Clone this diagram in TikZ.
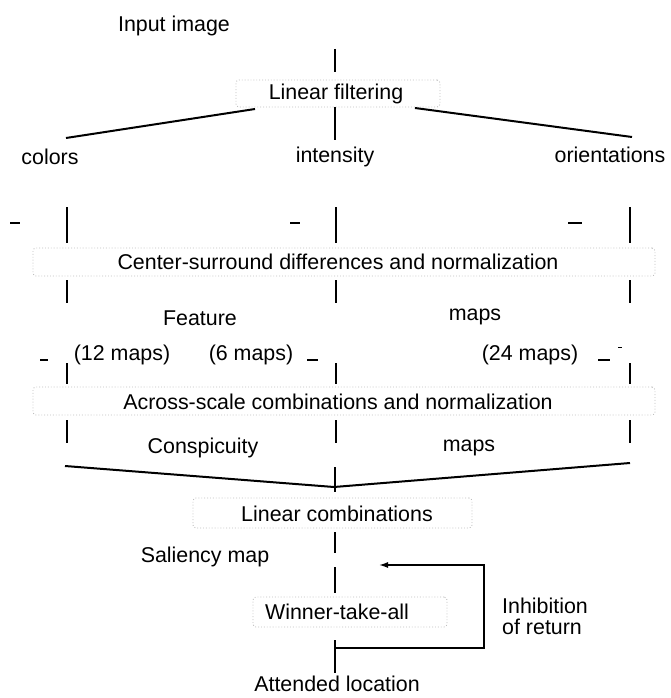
\documentclass[tikz,border=0pt]{standalone}
\usepackage{fontspec}
\setmainfont{Liberation Sans}
\usetikzlibrary{arrows.meta}
\begin{document}
\begin{tikzpicture}[x=1pt,y=-1pt,
  lbl/.style={font=\fontsize{21.4}{25}\selectfont, inner sep=0pt, anchor=center},
  bar/.style={line width=1.5pt},
  heavy/.style={line width=2pt},
  tickmark/.style={line width=1.8pt},
  dbox/.style={draw=gray!50, dotted, line width=0.9pt, rounded corners=3pt, inner sep=0pt}
]
\useasboundingbox (0,0) rectangle (671,698);

% texts
\node[lbl] (input) at (174,26) {Input image};
\node[dbox, minimum width=204pt, minimum height=27pt] (lfbox) at (338,93.5) {};
\node[lbl] (lf) at (336,94) {Linear filtering};
\node[lbl] (colors) at (50,157) {colors};
\node[lbl] (intensity) at (335,157) {intensity};
\node[lbl] (orient) at (610,155) {orientations};

\node[dbox, minimum width=622pt, minimum height=28pt] (csbox) at (344,262) {};
\node[lbl] (cs) at (338,262) {Center-surround differences and normalization};
\node[lbl] (feature) at (200,318) {Feature};
\node[lbl] (fmaps) at (475,317) {maps};
\node[lbl] (m12) at (122,355) {(12 maps)};
\node[lbl] (m6) at (251,355) {(6 maps)};
\node[lbl] (m24) at (530,355) {(24 maps)};

\node[dbox, minimum width=622pt, minimum height=28pt] (asbox) at (344,401) {};
\node[lbl] (as) at (338,402) {Across-scale combinations and normalization};
\node[lbl] (consp) at (203,448) {Conspicuity};
\node[lbl] (cmaps) at (469,448) {maps};

\node[dbox, minimum width=279pt, minimum height=30pt] (lcbox) at (332.5,513) {};
\node[lbl] (lc) at (337,514) {Linear combinations};
\node[lbl] (sal) at (205,557) {Saliency map};

\node[dbox, minimum width=194pt, minimum height=30pt] (wtabox) at (350,612) {};
\node[lbl] (wta) at (337,612) {Winner-take-all};
\node[lbl, anchor=west, align=left, font=\fontsize{21.4}{21}\selectfont] (ior) at (502,616) {Inhibition\\of return};
\node[lbl] (att) at (337,684) {Attended location};

% central trunk
\coordinate (t0) at (335,49);
\draw[bar] (t0) -- (335,72);
\draw[bar] (lfbox.south -| 335,0) -- (335,140);

% diagonals from Linear filtering
\coordinate (dl1) at (66,138);
\coordinate (dl2) at (255,109);
\coordinate (dr1) at (415,108);
\coordinate (dr2) at (632,137);
\draw[heavy] (dl1) -- (dl2);
\draw[heavy] (dr1) -- (dr2);

% bars and ticks
\foreach \x in {67,336,630}{
  \draw[bar] (\x,207) -- (\x,243);
  \draw[bar] (\x,280) -- (\x,303);
  \draw[bar] (\x,363) -- (\x,384);
  \draw[bar] (\x,420) -- (\x,443);
}
\draw[tickmark] (10,223) -- (20,223);
\draw[tickmark] (290,223) -- (300,223);
\draw[tickmark] (568,223) -- (582,223);
\draw[tickmark] (40,360) -- (48,360);
\draw[tickmark] (307,360) -- (318,360);
\draw[tickmark] (598,360) -- (610,360);
\draw[line width=0.8pt] (618,347) -- (622,347);

% conspicuity merge
\coordinate (vl) at (65,466);
\coordinate (vm) at (334,487);
\coordinate (vr) at (630,463);
\draw[heavy] (vl) -- (vm) -- (vr);
\draw[bar] (335,467) -- (335,492);
\draw[bar] (335,532) -- (335,553);
\draw[bar] (335,567) -- (335,593);
\draw[bar] (335,640) -- (335,673);

% inhibition of return loop
\coordinate (fb0) at (336,648);
\coordinate (fb1) at (484,648);
\coordinate (fb2) at (484,565);
\coordinate (fb3) at (379,565);
\draw[bar, -{Latex[length=9pt,width=6pt]}] (fb0) -- (fb1) -- (fb2) -- (fb3);
\end{tikzpicture}
\end{document}
